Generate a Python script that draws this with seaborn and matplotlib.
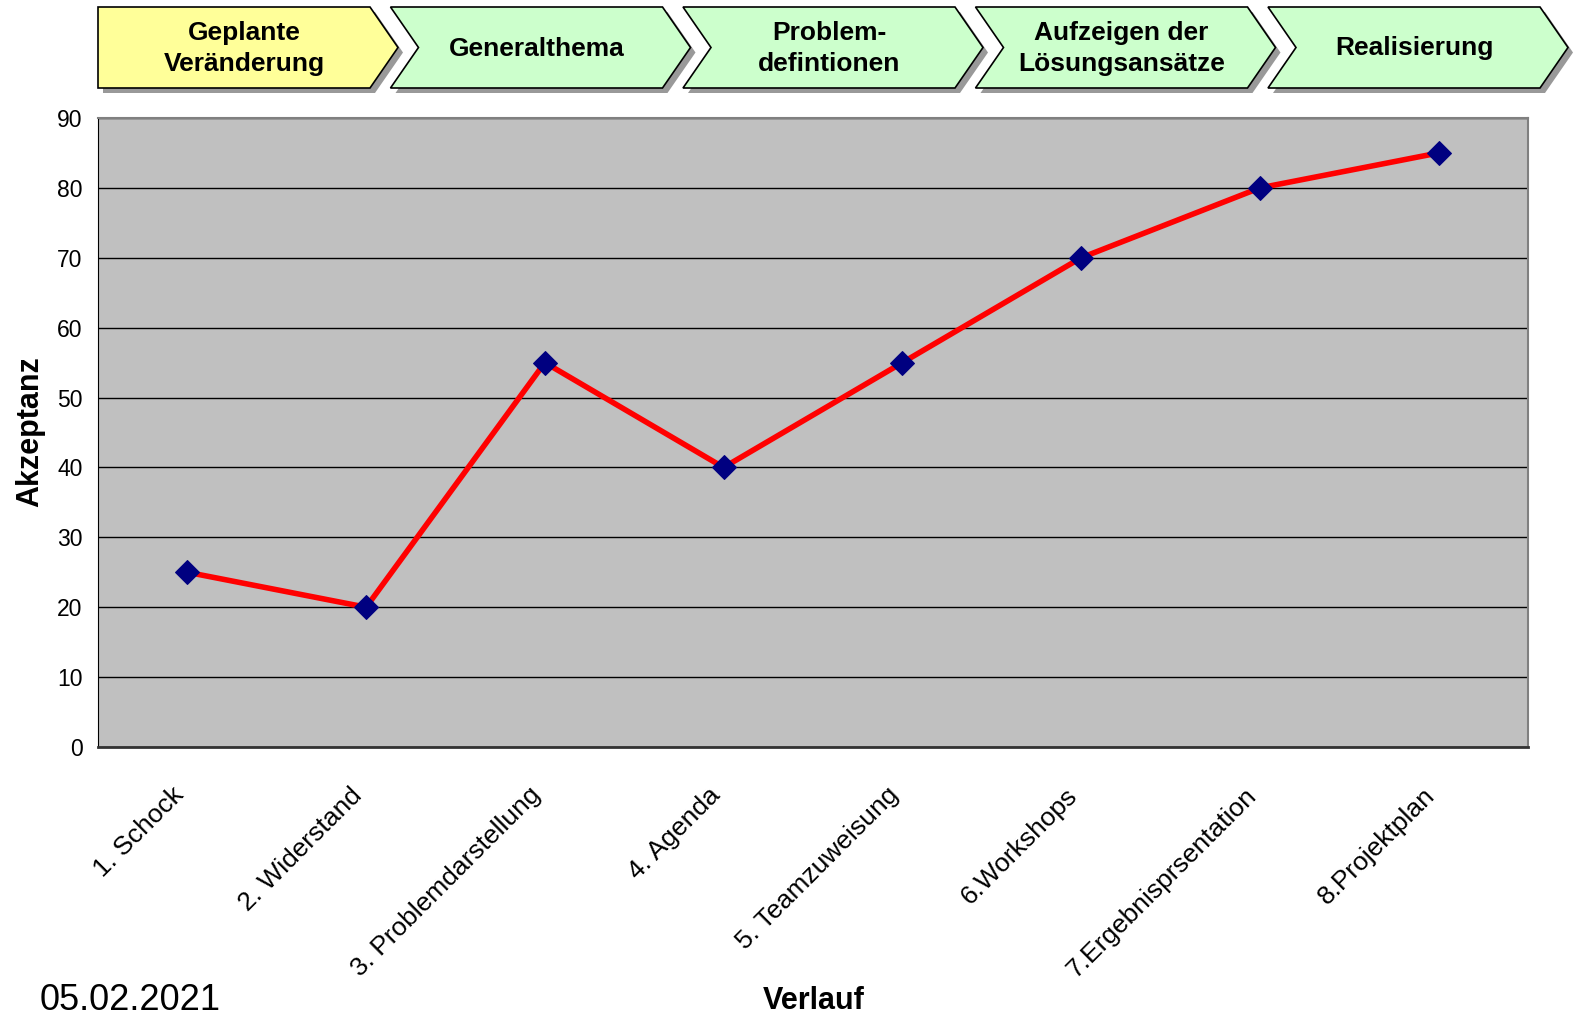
import numpy as np
import pandas as pd
import matplotlib.pyplot as plt
import matplotlib.transforms as mtrans
import seaborn as sns
from matplotlib.patches import Polygon

### 데이터
stufen = ["1. Schock", "2. Widerstand", "3. Problemdarstellung", "4. Agenda",
          "5. Teamzuweisung", "6.Workshops", "7.Ergebnisprsentation", "8.Projektplan"]
akzeptanz = [25, 20, 55, 40, 55, 70, 80, 85]
phasen = ["Geplante\nVeränderung", "Generalthema", "Problem-\ndefintionen",
          "Aufzeigen der\nLösungsansätze", "Realisierung"]
phasen_farben = ["#FFFF99", "#CCFFCC", "#CCFFCC", "#CCFFCC", "#CCFFCC"]

sns.set_style("white")
plt.rcParams["font.family"] = ["Liberation Sans", "DejaVu Sans"]
plt.rcParams["text.color"] = "black"
plt.rcParams["xtick.color"] = "black"
plt.rcParams["ytick.color"] = "black"

W, H = 1580, 1023
fig = plt.figure(figsize=(W / 100, H / 100), dpi=100)
ax = fig.add_axes([98 / W, 1 - 747 / H, (1528 - 98) / W, (747 - 118) / H])

df = pd.DataFrame({"pos": np.arange(len(stufen)), "wert": akzeptanz})
sns.lineplot(data=df, x="pos", y="wert", ax=ax, color="#FF0000", linewidth=4,
             marker="D", markersize=12, markerfacecolor="#000080",
             markeredgecolor="#000080", zorder=3)

ax.set_facecolor("#C0C0C0")
ax.set_xlim(-0.5, len(stufen) - 0.5)
ax.set_ylim(0, 90)
ax.set_yticks(range(0, 91, 10))
ax.yaxis.grid(True, color="black", linewidth=1)
ax.set_axisbelow(True)

ax.set_xticks(range(len(stufen)))
ax.set_xticklabels(stufen, rotation=45, ha="right", va="top", rotation_mode="anchor")
ax.set_xticks(np.arange(-0.5, len(stufen)), minor=True)
ax.tick_params(axis="x", which="major", length=0, pad=26, labelsize=19)
ax.tick_params(axis="x", which="minor", length=8, width=1, color="#333333", direction="out")
ax.tick_params(axis="y", length=7, width=1, color="#333333", direction="out", labelsize=16.5, pad=4)

### 라벨 살짝 왼쪽으로
versatz = mtrans.ScaledTranslation(-16 / 100, 0, fig.dpi_scale_trans)
for lab in ax.get_xticklabels():
    lab.set_transform(lab.get_transform() + versatz)

for s in ["top", "right"]:
    ax.spines[s].set_color("#808080")
    ax.spines[s].set_linewidth(1.5)
ax.spines["left"].set_color("black")
ax.spines["bottom"].set_color("#333333")
ax.spines["bottom"].set_linewidth(2)

ax.set_xlabel("")
ax.set_ylabel("")
fig.text(814 / W, 1 - 1001 / H, "Verlauf", ha="center", va="center",
         fontsize=22, fontweight="bold")
fig.text(30 / W, 1 - 432 / H, "Akzeptanz", ha="center", va="center",
         rotation=90, fontsize=22, fontweight="bold")
fig.text(40 / W, 1 - 1010 / H, "05.02.2021", ha="left", va="baseline", fontsize=26)

### Phasen-Pfeile oben
def px(x, y):
    return (x / W, 1 - y / H)

top, bot, d = 7, 88, 28
for i, (txt, farbe) in enumerate(zip(phasen, phasen_farben)):
    L = 98 + i * 292.5
    R = L + 300
    mid = (top + bot) / 2
    pts = [(L, top), (R - d, top), (R, mid), (R - d, bot), (L, bot)]
    if i > 0:
        pts.append((L + d, mid))
    schatten = [px(x + 5, y + 5) for x, y in pts]
    fig.patches.append(Polygon(schatten, closed=True, transform=fig.transFigure,
                               facecolor="#999999", edgecolor="none", zorder=1))
    fig.patches.append(Polygon([px(x, y) for x, y in pts], closed=True,
                               transform=fig.transFigure, facecolor=farbe,
                               edgecolor="black", linewidth=1.2, zorder=2))
    cx = (L + R) / 2 - 4
    fig.text(cx / W, 1 - (mid + 1) / H, txt, ha="center", va="center", fontsize=19,
             fontweight="bold", linespacing=1.35, zorder=3)

fig.savefig("out.png", dpi=100)
